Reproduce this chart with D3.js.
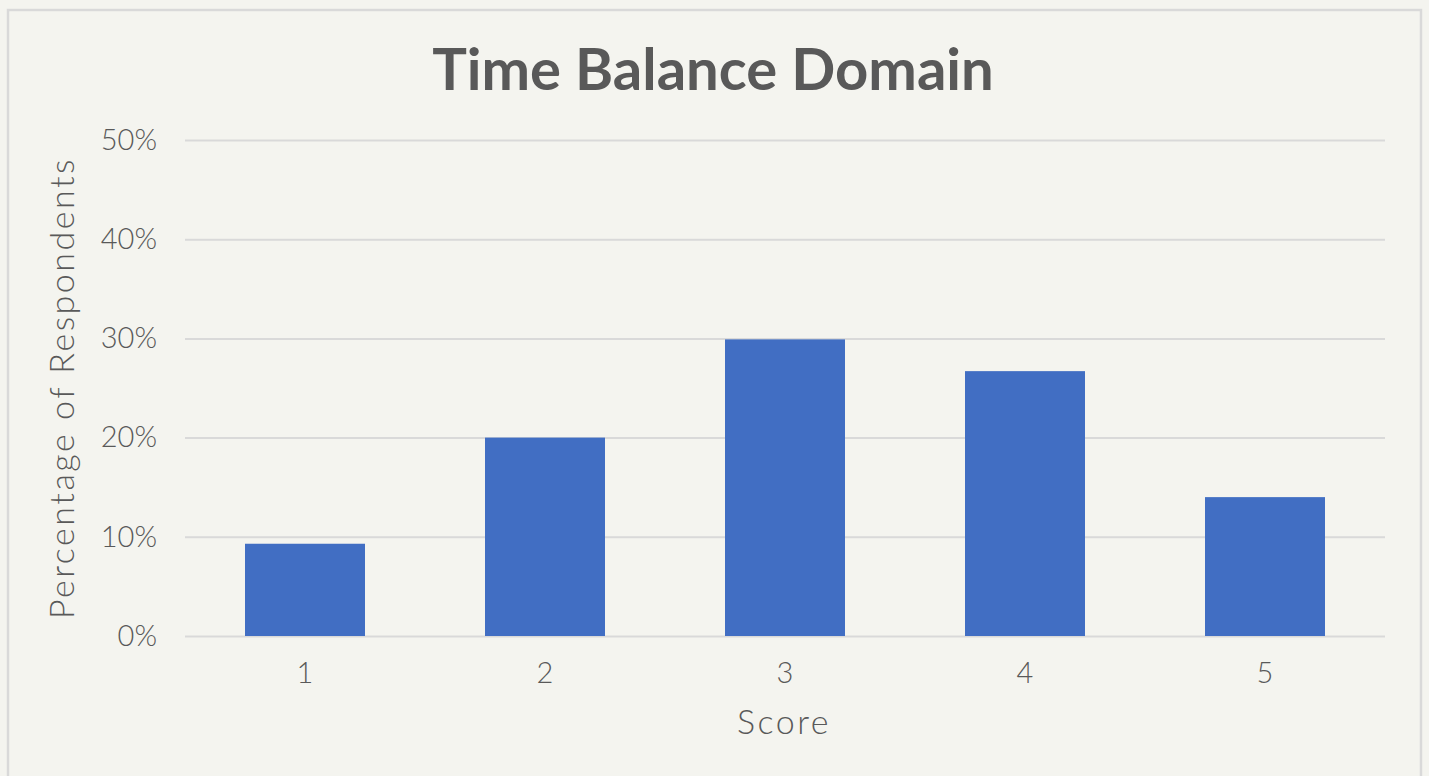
<!DOCTYPE html>
<html>
<head>
<meta charset="utf-8">
<script src="https://cdn.jsdelivr.net/npm/d3@7"></script>
<style>
  body { margin: 0; background: #f4f4ef; }
  text { font-family: "Lato", "DejaVu Sans", sans-serif; fill: #595959; }
</style>
</head>
<body>
<div id="chart"></div>
<script>
// chart data
const scores = ["1", "2", "3", "4", "5"];
const percents = [9.3, 20.0, 29.9, 26.7, 14.0];
const yTicks = [0, 10, 20, 30, 40, 50];

drawChart()
function drawChart(){
  const width = 1429, height = 776;
  const margin = {top: 140, right: 44, bottom: 140, left: 185};

  const svg = d3.select("#chart")
    .append("svg")
      .attr("width", width)
      .attr("height", height);

  // outer frame of the chart area
  svg.append("rect")
    .attr("x", 8).attr("y", 10)
    .attr("width", 1413).attr("height", 790)
    .attr("fill", "#f4f4ef")
    .attr("stroke", "#d9d9d9")
    .attr("stroke-width", 2.5);

  const x = d3.scaleBand()
    .domain(scores)
    .range([margin.left, width - margin.right])
    .paddingInner(0.5)
    .paddingOuter(0.25);

  const y = d3.scaleLinear()
    .domain([0, 50])
    .range([height - margin.bottom, margin.top]);

  // gridlines + y labels
  const yAxis = svg.append("g")
    .attr("transform", `translate(${margin.left},0)`)
    .call(d3.axisLeft(y)
      .tickValues(yTicks)
      .tickSize(-(width - margin.left - margin.right))
      .tickPadding(28)
      .tickFormat(d => d + "%"));
  yAxis.select(".domain").remove();
  yAxis.selectAll(".tick line").attr("stroke", "#d9d9d9").attr("stroke-width", 2);
  yAxis.selectAll(".tick text")
    .style("font-size", "29px")
    .style("font-weight", 300)
    .attr("fill", "#595959");

  // bars
  svg.selectAll("rect.bar")
    .data(percents)
    .join("rect")
      .attr("class", "bar")
      .attr("x", (d, i) => x(scores[i]))
      .attr("y", d => y(d))
      .attr("width", x.bandwidth())
      .attr("height", d => y(0) - y(d))
      .attr("fill", "#416ec3");

  // x axis labels
  const xAxis = svg.append("g")
    .attr("transform", `translate(0,${y(0)})`)
    .call(d3.axisBottom(x).tickSize(0).tickPadding(26));
  xAxis.select(".domain").remove();
  xAxis.selectAll(".tick text")
    .style("font-size", "29px")
    .style("font-weight", 300)
    .attr("fill", "#595959");

  // title
  svg.append("text")
    .attr("x", 713).attr("y", 90)
    .attr("text-anchor", "middle")
    .style("font-size", "58px")
    .style("font-weight", "bold")
    .text("Time Balance Domain");

  // axis titles
  svg.append("text")
    .attr("x", 784).attr("y", 734)
    .attr("text-anchor", "middle")
    .style("font-size", "34px")
    .style("font-weight", 300)
    .style("letter-spacing", "2.5px")
    .text("Score");

  svg.append("text")
    .attr("transform", "translate(74,388) rotate(-90)")
    .attr("text-anchor", "middle")
    .style("font-size", "34px")
    .style("font-weight", 300)
    .style("letter-spacing", "2.5px")
    .text("Percentage of Respondents");
}
</script>
</body>
</html>
